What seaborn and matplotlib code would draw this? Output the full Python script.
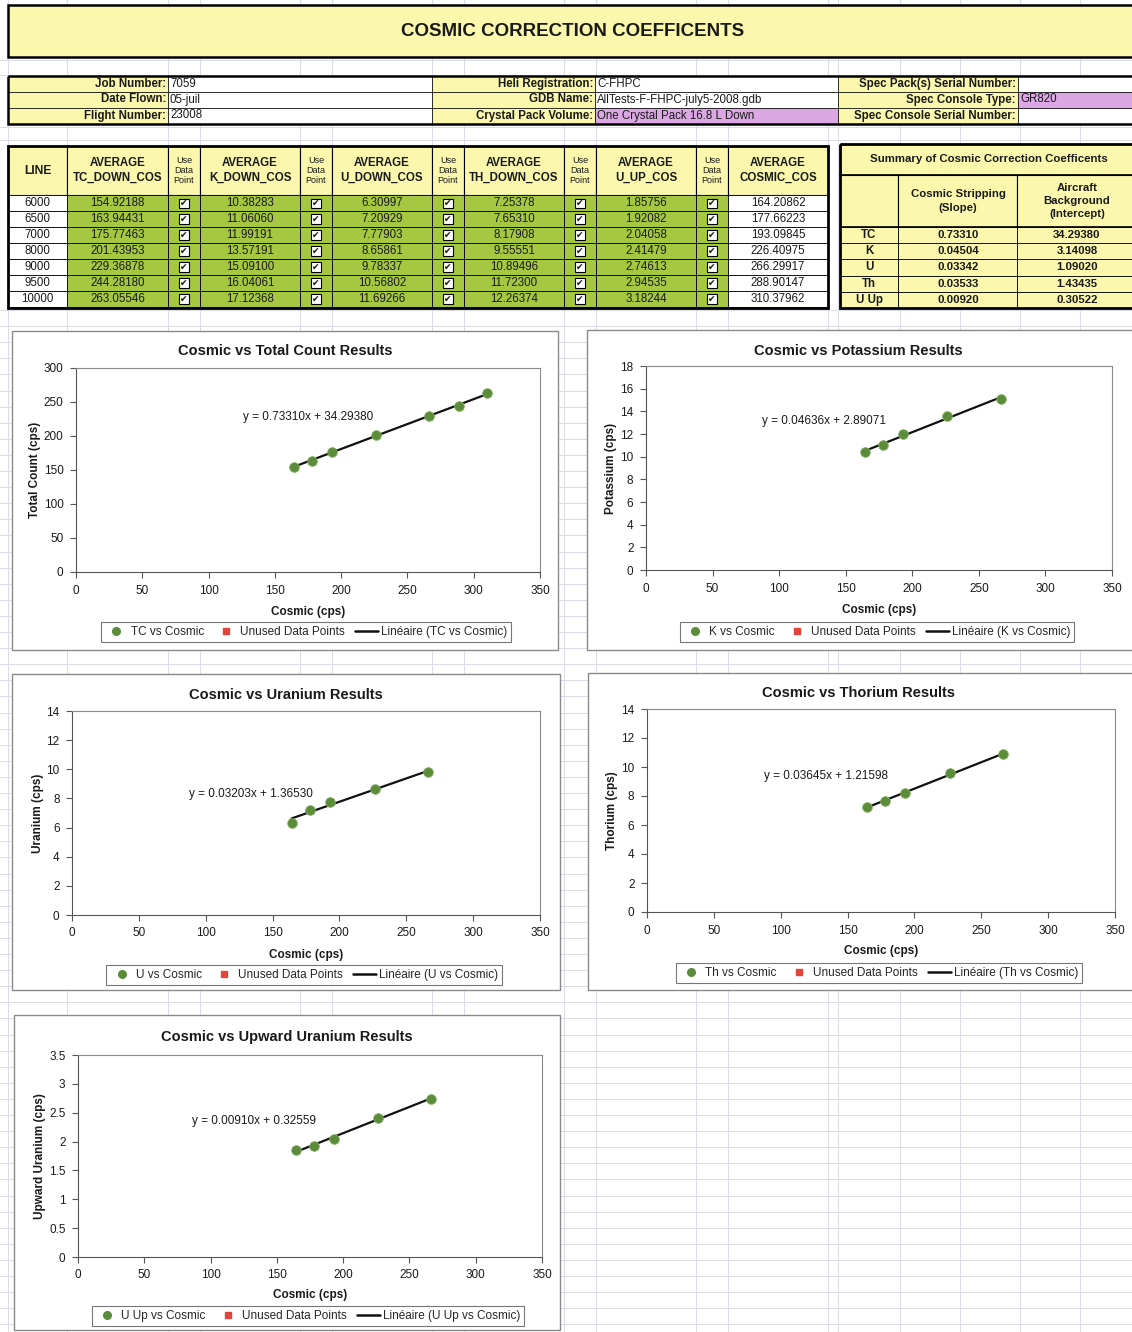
import numpy as np
import pandas as pd
import matplotlib
matplotlib.use("Agg")
import matplotlib.pyplot as plt
import seaborn as sns
from matplotlib.patches import Rectangle
from matplotlib.lines import Line2D

# ---------------- data ----------------
report_title = "COSMIC CORRECTION COEFFICENTS"
info_labels_a = ["Job Number:", "Date Flown:", "Flight Number:"]
info_values_a = ["7059", "05-juil", "23008"]
info_labels_b = ["Heli Registration:", "GDB Name:", "Crystal Pack Volume:"]
info_values_b = ["C-FHPC", "AllTests-F-FHPC-july5-2008.gdb", "One Crystal Pack 16.8 L Down"]
info_labels_c = ["Spec Pack(s) Serial Number:", "Spec Console Type:", "Spec Console Serial Number:"]
info_values_c = ["", "GR820", ""]

lines = ["6000", "6500", "7000", "8000", "9000", "9500", "10000"]
tc = [154.92188, 163.94431, 175.77463, 201.43953, 229.36878, 244.28180, 263.05546]
k = [10.38283, 11.06060, 11.99191, 13.57191, 15.09100, 16.04061, 17.12368]
u = [6.30997, 7.20929, 7.77903, 8.65861, 9.78337, 10.56802, 11.69266]
th = [7.25378, 7.65310, 8.17908, 9.55551, 10.89496, 11.72300, 12.26374]
uup = [1.85756, 1.92082, 2.04058, 2.41479, 2.74613, 2.94535, 3.18244]
cosmic = [164.20862, 177.66223, 193.09845, 226.40975, 266.29917, 288.90147, 310.37962]
table_headers = ["LINE", "AVERAGE\nTC_DOWN_COS", "Use\nData\nPoint", "AVERAGE\nK_DOWN_COS",
                 "Use\nData\nPoint", "AVERAGE\nU_DOWN_COS", "Use\nData\nPoint",
                 "AVERAGE\nTH_DOWN_COS", "Use\nData\nPoint", "AVERAGE\nU_UP_COS",
                 "Use\nData\nPoint", "AVERAGE\nCOSMIC_COS"]

summary_title = "Summary of Cosmic Correction Coefficents"
summary_names = ["TC", "K", "U", "Th", "U Up"]
summary_slopes = [0.73310, 0.04504, 0.03342, 0.03533, 0.00920]
summary_intercepts = [34.29380, 3.14098, 1.09020, 1.43435, 0.30522]

chart_titles = ["Cosmic vs Total Count Results", "Cosmic vs Potassium Results",
                "Cosmic vs Uranium Results", "Cosmic vs Thorium Results",
                "Cosmic vs Upward Uranium Results"]
chart_ylabels = ["Total Count (cps)", "Potassium (cps)", "Uranium (cps)",
                 "Thorium (cps)", "Upward Uranium (cps)"]
chart_series_names = ["TC", "K", "U", "Th", "U Up"]
chart_values = [tc, k, u, th, uup]
chart_points_used = [7, 5, 5, 5, 5]
chart_slopes = [0.73310, 0.04636, 0.03203, 0.03645, 0.00910]
chart_intercepts = [34.29380, 2.89071, 1.36530, 1.21598, 0.32559]
chart_ymax = [300, 18, 14, 14, 3.5]
chart_ystep = [50, 2, 2, 2, 0.5]

# ---------------- style / layout ----------------
sns.set_theme(style="white")
plt.rcParams["font.family"] = ["Liberation Sans", "DejaVu Sans"]

W, H = 1132, 1332
YEL = "#FBF8AE"
GRN = "#A5C742"
PUR = "#DCA8E4"
MARK = "#5B8B3B"

fig = plt.figure(figsize=(W / 100, H / 100), dpi=100)
fig.patch.set_facecolor("white")
bg = fig.add_axes([0, 0, 1, 1])
bg.set_xlim(0, W)
bg.set_ylim(H, 0)
bg.axis("off")

# spreadsheet grid
gcol = "#dadbea"
for xv in [8, 67, 168, 200, 300, 332, 432, 464, 564, 596, 696, 728, 828, 838, 900, 960, 1020, 1080]:
    bg.plot([xv, xv], [0, H], color=gcol, lw=0.7, zorder=0)
for yv in list(np.arange(310, H, 16.1)) + [60, 75, 127, 140]:
    bg.plot([0, W], [yv, yv], color=gcol, lw=0.7, zorder=0)


def cell(x0, y0, x1, y1, fc, ec="black", lw=0.6, z=1):
    bg.add_patch(Rectangle((x0, y0), x1 - x0, y1 - y0, facecolor=fc, edgecolor=ec, lw=lw, zorder=z))


def txt(x, y, s, ha="center", fs=8.5, fw="normal", **kw):
    bg.text(x, y, s, ha=ha, va="center", fontsize=fs, fontweight=fw, color="#1a1a1a", zorder=5, **kw)


# title band
cell(8, 5, W + 5, 57, YEL, lw=1.8)
txt(573, 31, report_title, fs=13.5, fw="bold")

# info table
iy = [76, 91.5, 107.5, 123.5]
icx = [8, 168, 432, 595, 838, 1018, W + 5]
for r in range(3):
    y0, y1 = iy[r], iy[r + 1]
    groups = [(info_labels_a, info_values_a), (info_labels_b, info_values_b), (info_labels_c, info_values_c)]
    for g, (labs, vals) in enumerate(groups):
        lx0, lx1, vx1 = icx[2 * g], icx[2 * g + 1], icx[2 * g + 2]
        cell(lx0, y0, lx1, y1, YEL, lw=0.5)
        vfc = "white"
        if (g == 1 and r == 2) or (g == 2 and r == 1):
            vfc = PUR
        cell(lx1, y0, vx1, y1, vfc, lw=0.5)
        txt(lx1 - 2, (y0 + y1) / 2, labs[r], ha="right", fs=8.3, fw="bold")
        txt(lx1 + 2, (y0 + y1) / 2, vals[r], ha="left", fs=8.3)
bg.add_patch(Rectangle((8, 76), W, 47.5, fill=False, edgecolor="black", lw=1.8, zorder=3))

# main data table
cx = [8, 67, 168, 200, 300, 332, 432, 464, 564, 596, 696, 728, 828]
ty0, ty1 = 146, 195
rh = 15.95
value_cols = [tc, k, u, th, uup, cosmic]
for c in range(12):
    x0, x1 = cx[c], cx[c + 1]
    cell(x0, ty0, x1, ty1, YEL, lw=0.8)
    is_use = table_headers[c].startswith("Use")
    if is_use:
        txt((x0 + x1) / 2, (ty0 + ty1) / 2, table_headers[c], fs=6.5, linespacing=1.15)
    else:
        txt((x0 + x1) / 2, (ty0 + ty1) / 2, table_headers[c], fs=8.7 if c == 0 else 8.3, fw="bold", linespacing=1.35)
    for r in range(len(lines)):
        y0 = ty1 + r * rh
        y1 = y0 + rh
        if c == 0:
            cell(x0, y0, x1, y1, "white", lw=0.6)
            txt((x0 + x1) / 2, (y0 + y1) / 2, lines[r], fs=8.3)
        elif is_use:
            cell(x0, y0, x1, y1, GRN, lw=0.6)
            bx = (x0 + x1) / 2
            cell(bx - 5, y0 + 3.5, bx + 5, y1 - 3, "white", lw=0.8, z=2)
            bg.text(bx, (y0 + y1) / 2 + 0.5, "\u2714", ha="center", va="center", fontsize=6.5,
                    family="DejaVu Sans", color="#111", zorder=6)
        else:
            vi = (c - 1) // 2
            fc = "white" if c == 11 else GRN
            cell(x0, y0, x1, y1, fc, lw=0.6)
            txt((x0 + x1) / 2, (y0 + y1) / 2, f"{value_cols[vi][r]:.5f}", fs=8.3)
tab_bottom = ty1 + len(lines) * rh
bg.add_patch(Rectangle((8, ty0), 820, tab_bottom - ty0 + 1, fill=False, edgecolor="black", lw=2, zorder=4))

# summary table
sx = [840, 898, 1017, W + 5]
cell(840, 144, W + 5, 175, YEL, lw=0.8)
txt(989, 159, summary_title, fs=8.2, fw="bold")
cell(840, 175, 898, 227, YEL, lw=0.8)
cell(898, 175, 1017, 227, YEL, lw=0.8)
cell(1017, 175, W + 5, 227, YEL, lw=0.8)
txt(958, 201, "Cosmic Stripping\n(Slope)", fs=8.2, fw="bold", linespacing=1.45)
txt(1077, 201, "Aircraft\nBackground\n(Intercept)", fs=8.2, fw="bold", linespacing=1.35)
srh = (308 - 227) / 5
for r in range(5):
    y0 = 227 + r * srh
    y1 = y0 + srh
    cell(840, y0, 898, y1, YEL, lw=0.6)
    cell(898, y0, 1017, y1, YEL, lw=0.6)
    cell(1017, y0, W + 5, y1, YEL, lw=0.6)
    txt(869, (y0 + y1) / 2, summary_names[r], fs=8.3, fw="bold")
    txt(958, (y0 + y1) / 2, f"{summary_slopes[r]:.5f}", fs=8.2, fw="bold")
    txt(1077, (y0 + y1) / 2, f"{summary_intercepts[r]:.5f}", fs=8.2, fw="bold")
bg.add_patch(Rectangle((840, 144), W, 164, fill=False, edgecolor="black", lw=2, zorder=4))
bg.plot([840, W], [175, 175], color="black", lw=1.2, zorder=4)
bg.plot([840, W], [227, 227], color="black", lw=1.2, zorder=4)

# ---------------- charts ----------------
plot_rects = [(76, 368, 540, 572), (646, 366, 1112, 570), (72, 711, 540, 915),
              (647, 709, 1115, 912), (78, 1055, 542, 1257)]
boxes = [(12, 331, 558, 650), (587, 330, W + 5, 650), (12, 674, 560, 990),
         (588, 673, W + 5, 990), (14, 1015, 560, 1330)]
title_y = [351, 351, 695, 693, 1037]
legend_top = [622, 622, 965, 963, 1306]
ylabel_x = [35, 611, 38, 612, 40]
xlabel_y = [612, 610, 955, 951, 1295]
eq_pos = [(175, 228), (134, 13.15), (134, 8.3), (134, 9.4), (133, 2.36)]

for i in range(5):
    bx0, by0, bx1, by1 = boxes[i]
    bg.add_patch(Rectangle((bx0, by0), bx1 - bx0, by1 - by0, facecolor="white",
                           edgecolor="#8a8a8a", lw=1.0, zorder=2))
    px0, py0, px1, py1 = plot_rects[i]
    ax = fig.add_axes([px0 / W, 1 - py1 / H, (px1 - px0) / W, (py1 - py0) / H])
    ax.set_facecolor("white")
    n = chart_points_used[i]
    df = pd.DataFrame({"Cosmic": cosmic[:n], "Value": chart_values[i][:n]})
    xs = np.array([df["Cosmic"].min(), df["Cosmic"].max()])
    trend = pd.DataFrame({"x": xs, "y": chart_slopes[i] * xs + chart_intercepts[i]})
    sns.lineplot(data=trend, x="x", y="y", ax=ax, color="#111111", lw=1.6, zorder=2)
    sns.scatterplot(data=df, x="Cosmic", y="Value", ax=ax, color=MARK, s=48,
                    edgecolor="#7fae5a", linewidth=0.6, zorder=3, legend=False)
    ax.set_xlim(0, 350)
    ax.set_ylim(0, chart_ymax[i])
    ax.set_xticks(np.arange(0, 351, 50))
    ax.set_yticks(np.arange(0, chart_ymax[i] + 1e-9, chart_ystep[i]))
    ax.yaxis.set_major_formatter(matplotlib.ticker.FormatStrFormatter("%g"))
    ax.tick_params(axis="both", which="both", direction="out", length=4, width=0.8,
                   colors="#555555", labelcolor="#1a1a1a", labelsize=8.5,
                   left=True, bottom=True, pad=5)
    for sname, sp in ax.spines.items():
        sp.set_visible(True)
        sp.set_color("#8a8a8a")
        sp.set_linewidth(0.8)
    ax.spines["left"].set_color("#555555")
    ax.spines["bottom"].set_color("#555555")
    ax.set_xlabel("Cosmic (cps)", fontsize=8.5, fontweight="bold", color="#1a1a1a")
    ax.xaxis.set_label_coords(0.5, -(xlabel_y[i] - 6 - py1) / (py1 - py0))
    ax.set_ylabel(chart_ylabels[i], fontsize=8.5, fontweight="bold", color="#1a1a1a")
    ax.yaxis.set_label_coords((ylabel_x[i] + 6 - px0) / (px1 - px0), 0.5)
    ax.text(eq_pos[i][0], eq_pos[i][1], f"y = {chart_slopes[i]:.5f}x + {chart_intercepts[i]:.5f}",
            ha="center", va="center", fontsize=8.5, color="#1a1a1a")
    bg.text((bx0 + min(bx1, W)) / 2 - (1 if i % 2 else 0), title_y[i], chart_titles[i],
            ha="center", va="center", fontsize=10.5, fontweight="bold", color="#1a1a1a", zorder=5)
    name = chart_series_names[i]
    handles = [
        Line2D([], [], marker="o", ls="none", color=MARK, markersize=5.5),
        Line2D([], [], marker="s", ls="none", color="#e0443a", markersize=4),
        Line2D([], [], color="#111111", lw=1.8),
    ]
    labels = [f"{name} vs Cosmic", "Unused Data Points", f"Lin\u00e9aire ({name} vs Cosmic)"]
    leg = ax.legend(handles, labels, loc="upper center",
                    bbox_to_anchor=(((px0 + px1) / 2 - 2) / W, 1 - legend_top[i] / H),
                    bbox_transform=fig.transFigure, ncol=3, frameon=True, fancybox=False,
                    fontsize=8.5, handlelength=1.9, handletextpad=0.25, columnspacing=0.9,
                    borderpad=0.35, borderaxespad=0)
    leg.get_frame().set_edgecolor("#555555")
    leg.get_frame().set_linewidth(0.8)

fig.savefig("out.png", dpi=100, facecolor="white")
